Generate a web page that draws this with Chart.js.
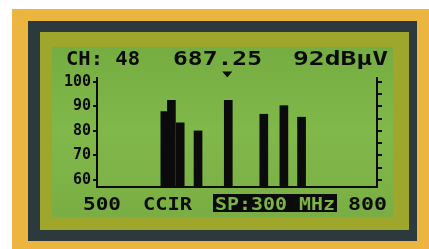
<!DOCTYPE html>
<html>
<head>
<meta charset="utf-8">
<script src="https://cdn.jsdelivr.net/npm/chart.js@4/dist/chart.umd.min.js"></script>
<style>
  html, body { margin: 0; padding: 0; background: #fff; }
  canvas { display: block; }
</style>
</head>
<body>
<canvas id="lcd" width="429" height="249"></canvas>
<script>
// spectrum readout, values
const freqs = [559.8, 568.0, 579.0, 601.3, 639.1, 683.5, 708.6, 730.7];   // MHz
const levels = [87.9, 92.5, 83.3, 80.0, 92.5, 86.8, 90.3, 85.6];          // dBuV
const yTicks = [60, 65, 70, 75, 80, 85, 90, 95, 100];
const yLabels = [100, 90, 80, 70, 60];
const xRange = [500, 800];
const xLabels = ['500', '800'];
const selected = 4;
const header = ['CH: 48', '687.25', '92dBμV'];
const footer = ['CCIR', 'SP:300 MHz'];

const yMin = 57.1, yMax = 101.6;
const INK = '#0b0b0b';
const LCD = '#7db446';

function fitText(ctx, txt, x, y, w) {
    const m = ctx.measureText(txt).width;
    ctx.save();
    ctx.translate(x, y);
    ctx.scale(w / m, 1);
    ctx.fillText(txt, 0, 0);
    ctx.restore();
}

const frame = {
    id: 'frame',
    beforeDraw(chart) {
        const ctx = chart.ctx;
        ctx.save();
        ctx.fillStyle = '#ffffff';
        ctx.fillRect(0, 0, 429, 249);
        ctx.fillStyle = '#ebb53f';
        ctx.fillRect(12, 9, 417, 240);
        ctx.fillStyle = '#2c3a3d';
        ctx.fillRect(28, 21, 389, 220);
        ctx.fillStyle = '#9ea72c';
        ctx.fillRect(40, 32, 369, 198);
        const g = ctx.createLinearGradient(0, 47, 0, 217);
        g.addColorStop(0, '#76ad42');
        g.addColorStop(0.5, '#81b84a');
        g.addColorStop(1, '#7aae44');
        ctx.fillStyle = g;
        ctx.fillRect(52, 47, 341, 170);
        ctx.restore();
    },
    afterDraw(chart) {
        const ctx = chart.ctx;
        const xs = chart.scales.x;
        ctx.save();
        ctx.fillStyle = INK;
        ctx.textBaseline = 'alphabetic';
        ctx.font = 'bold 20px "DejaVu Sans Mono"';
        fitText(ctx, header[0], 66, 65, 74);
        fitText(ctx, header[1], 173, 65, 89);
        fitText(ctx, header[2], 293, 65, 95);

        // marker over the selected channel
        const mx = xs.getPixelForValue(freqs[selected]) - 1;
        ctx.beginPath();
        ctx.moveTo(mx - 5, 71.5);
        ctx.lineTo(mx + 5, 71.5);
        ctx.lineTo(mx, 77.5);
        ctx.closePath();
        ctx.fill();

        ctx.font = 'bold 18px "DejaVu Sans Mono"';
        fitText(ctx, xLabels[0], 83, 210, 38);
        fitText(ctx, footer[0], 143, 210, 49);
        fitText(ctx, xLabels[1], 348, 210, 39);
        ctx.fillRect(213, 194, 124, 18);
        ctx.fillStyle = LCD;
        fitText(ctx, footer[1], 215, 210, 120);
        ctx.restore();
    }
};

const tickFont = { family: 'DejaVu Sans Mono', weight: 'bold', size: 15 };
const setTicks = s => { s.ticks = yTicks.map(v => ({ value: v })); };

new Chart(document.getElementById('lcd'), {
    type: 'bar',
    data: {
        datasets: [{
            data: freqs.map((f, i) => ({ x: f, y: levels[i] })),
            backgroundColor: INK,
            borderWidth: 0,
            barThickness: 8,
            base: yMin
        }]
    },
    options: {
        responsive: false,
        animation: false,
        layout: { padding: { left: 52, right: 42, top: 78, bottom: 62 } },
        plugins: { legend: { display: false }, tooltip: { enabled: false } },
        scales: {
            x: {
                type: 'linear', min: xRange[0], max: xRange[1],
                afterFit: s => { s.height = 0; },
                ticks: { display: false },
                grid: { display: false, drawTicks: false },
                border: { display: true, color: INK, width: 2 }
            },
            y: {
                position: 'left', min: yMin, max: yMax,
                afterBuildTicks: setTicks,
                afterFit: s => { s.width = 45; },
                ticks: {
                    font: tickFont, color: INK, padding: 2,
                    callback: v => yLabels.includes(v) ? String(v) : ''
                },
                grid: { drawOnChartArea: false, tickLength: 4, color: INK, lineWidth: 2 },
                border: { color: INK, width: 2 }
            },
            y2: {
                position: 'right', min: yMin, max: yMax,
                afterBuildTicks: setTicks,
                afterFit: s => { s.width = 10; },
                ticks: { display: false },
                grid: { drawOnChartArea: false, tickLength: 5, color: INK, lineWidth: 2 },
                border: { color: INK, width: 2 }
            }
        }
    },
    plugins: [frame]
});
</script>
</body>
</html>
